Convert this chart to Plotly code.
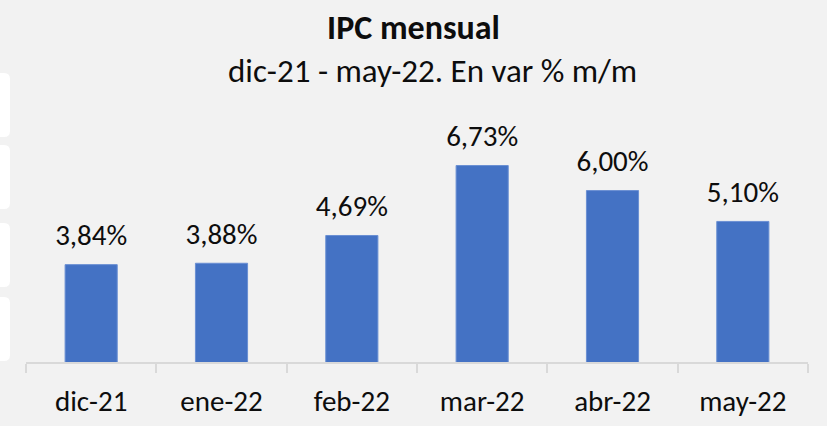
import plotly.graph_objects as go

# Data
months = ["dic-21", "ene-22", "feb-22", "mar-22", "abr-22", "may-22"]
ipc_mom = [3.84, 3.88, 4.69, 6.73, 6.00, 5.10]
labels = ["3,84%", "3,88%", "4,69%", "6,73%", "6,00%", "5,10%"]

BG = "#f2f2f2"
BAR = "#4472c4"
AXIS = "#d9d9d9"
TXT = "#0d0d0d"
FONT = "Carlito, Lato, sans-serif"

W, H = 827, 426
ML, MR, MT, MB = 26, 19, 122, 64
PW, PH = W - ML - MR, H - MT - MB


def px(x):
    return (x - ML) / PW


def py(y):
    return (H - MB - y) / PH


def rounded_rect(x0, y0, x1, y1, r):
    # path in paper coords built from pixel coords
    pts = [
        f"M {px(x0)},{py(y0 + r)}",
        f"Q {px(x0)},{py(y0)} {px(x0 + r)},{py(y0)}",
        f"L {px(x1 - r)},{py(y0)}",
        f"Q {px(x1)},{py(y0)} {px(x1)},{py(y0 + r)}",
        f"L {px(x1)},{py(y1 - r)}",
        f"Q {px(x1)},{py(y1)} {px(x1 - r)},{py(y1)}",
        f"L {px(x0 + r)},{py(y1)}",
        f"Q {px(x0)},{py(y1)} {px(x0)},{py(y1 - r)}",
        "Z",
    ]
    return " ".join(pts)


fig = go.Figure()

fig.add_trace(go.Bar(
    x=months,
    y=ipc_mom,
    marker=dict(color=BAR, line=dict(color="#6a8fd3", width=1)),
    width=0.4,
    hoverinfo="skip",
))

# data labels above each bar (invisible marker pushes text up a bit)
fig.add_trace(go.Scatter(
    x=months,
    y=ipc_mom,
    mode="markers+text",
    marker=dict(size=18, color="rgba(0,0,0,0)"),
    text=labels,
    textposition="top center",
    textfont=dict(size=29, color=TXT, family=FONT),
    cliponaxis=False,
    hoverinfo="skip",
))

# white tabs on the left edge
shapes = []
for y0, y1 in [(73, 137), (145, 209), (223, 287), (297, 361)]:
    shapes.append(dict(
        type="path", xref="paper", yref="paper",
        path=rounded_rect(-12, y0, 10, y1, 6),
        fillcolor="white", line_width=0, layer="below",
    ))

fig.update_layout(
    width=W, height=H,
    paper_bgcolor=BG,
    plot_bgcolor=BG,
    margin=dict(l=ML, r=MR, t=MT, b=MB),
    font=dict(family=FONT, color=TXT),
    showlegend=False,
    shapes=shapes,
    title=dict(
        text="<b>IPC mensual</b>",
        x=0.5, xanchor="center",
        y=1 - 27 / H, yanchor="middle", yref="container",
        font=dict(size=34, color=TXT, family=FONT),
    ),
    annotations=[dict(
        text="dic-21 - may-22. En var % m/m",
        xref="paper", yref="paper",
        x=px(432), y=py(71), xanchor="center", yanchor="middle",
        showarrow=False,
        font=dict(size=33, color=TXT, family=FONT),
    )],
    xaxis=dict(
        showline=True, linecolor=AXIS, linewidth=1.5, automargin=False,
        ticks="outside", tickson="boundaries", ticklen=9, tickcolor=AXIS, tickwidth=1.5,
        tickfont=dict(size=29, color=TXT, family=FONT),
        ticklabelstandoff=12,
        showgrid=False,
    ),
    yaxis=dict(
        range=[1, 8], visible=False, showgrid=False, zeroline=False,
    ),
)

fig.write_html(
    "out.html",
    config={"displayModeBar": False},
    post_script="document.body.style.margin='0';",
)
